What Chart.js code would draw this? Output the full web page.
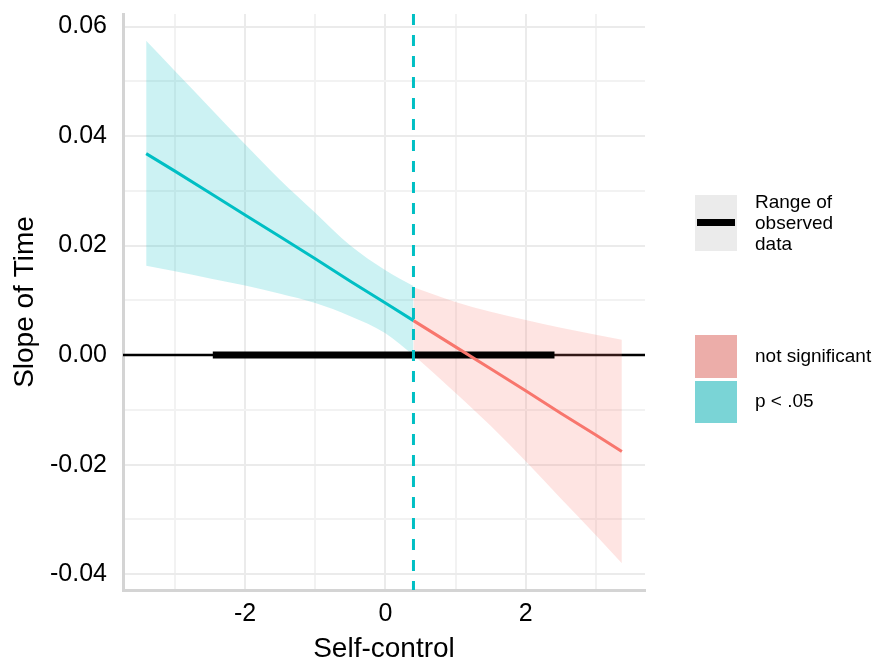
<!DOCTYPE html>
<html>
<head>
<meta charset="utf-8">
<script src="https://cdn.jsdelivr.net/npm/chart.js@4.4.1/dist/chart.umd.min.js"></script>
<style>
  body { margin: 0; background: #fff; }
  #wrap { width: 874px; height: 659px; }
</style>
</head>
<body>
<div id="wrap"><canvas id="jnChart" width="874" height="659"></canvas></div>
<script>
// values
var sigX     = [-3.41, -3, -2.5, -2, -1.5, -1, -0.5, 0, 0.4];
var sigSlope = [0.0368, 0.0336, 0.0296, 0.0256, 0.0216, 0.0176, 0.0135, 0.0095, 0.0063];
var sigUpper = [0.0574, 0.0519, 0.0452, 0.0385, 0.0320, 0.0260, 0.0200, 0.0155, 0.0126];
var sigLower = [0.0163, 0.0153, 0.0140, 0.0127, 0.0112, 0.0095, 0.0071, 0.0040, 0.0000];

var nsX     = [0.4, 1, 1.5, 2, 2.5, 3, 3.37];
var nsSlope = [0.0063, 0.0015, -0.0025, -0.0065, -0.0106, -0.0146, -0.0176];
var nsUpper = [0.0124, 0.0097, 0.0079, 0.0064, 0.0050, 0.0037, 0.0028];
var nsLower = [0.0000, -0.0069, -0.0129, -0.0194, -0.0262, -0.0329, -0.0380];

var observedRange = [-2.46, 2.41];
var jnPoint = 0.4;

var xTicks = [-3, -2, -1, 0, 1, 2, 3];
var xLabels = [-2, 0, 2];
var yTicks = [-0.04, -0.03, -0.02, -0.01, 0, 0.01, 0.02, 0.03, 0.04, 0.05, 0.06];
var yLabels = [-0.04, -0.02, 0, 0.02, 0.04, 0.06];

var cyan = '#00BFC4', salmon = '#F8766D';
var font = "'Liberation Sans', Arial, sans-serif";

function pts(xs, ys) {
    return xs.map(function(x, i){ return {x: x, y: ys[i]}; });
}
function isLabel(list, v) {
    return list.some(function(l){ return Math.abs(l - v) < 1e-9; });
}

var refLines = {
    id: 'refLines',
    beforeDatasetsDraw: function(chart) {
        // thin zero line across the panel
        var c = chart.ctx, a = chart.chartArea;
        var y0 = chart.scales.y.getPixelForValue(0);
        c.save();
        c.strokeStyle = '#000';
        c.lineWidth = 2.5;
        c.beginPath();
        c.moveTo(a.left, y0);
        c.lineTo(a.right, y0);
        c.stroke();
        c.restore();
    },
    afterDatasetsDraw: function(chart) {
        var c = chart.ctx, a = chart.chartArea;
        var xj = chart.scales.x.getPixelForValue(jnPoint);
        c.save();
        c.strokeStyle = cyan;
        c.lineWidth = 3;
        c.setLineDash([11, 10]);
        c.beginPath();
        c.moveTo(xj, a.top);
        c.lineTo(xj, a.bottom);
        c.stroke();
        c.restore();
    },
    afterDraw: function(chart) {
        var c = chart.ctx;
        c.save();
        // legend: range of observed data
        c.fillStyle = '#EBEBEB';
        c.fillRect(695, 195, 42, 56);
        c.fillStyle = '#000';
        c.fillRect(697, 219, 38, 7);
        c.font = '19px ' + font;
        c.textBaseline = 'middle';
        c.fillText('Range of', 755, 203);
        c.fillText('observed', 755, 224);
        c.fillText('data', 755, 245);
        // legend: significance
        c.fillStyle = '#ECADA9';
        c.fillRect(695, 335, 42, 43);
        c.fillStyle = '#7AD4D6';
        c.fillRect(695, 381, 42, 42);
        c.fillStyle = '#000';
        c.fillText('not significant', 755, 357);
        c.fillText('p < .05', 755, 402);
        c.restore();
    }
};

var ctx = document.getElementById('jnChart').getContext('2d');
var chart = new Chart(ctx, {
    type: 'line',
    data: {
        datasets: [
            { data: pts(sigX, sigUpper), borderWidth: 0, pointRadius: 0, fill: '+1',
              backgroundColor: 'rgba(0,191,196,0.2)', cubicInterpolationMode: 'monotone', order: 5 },
            { data: pts(sigX, sigLower), borderWidth: 0, pointRadius: 0, fill: false,
              cubicInterpolationMode: 'monotone', order: 5 },
            { data: pts(nsX, nsUpper), borderWidth: 0, pointRadius: 0, fill: '+1',
              backgroundColor: 'rgba(248,118,109,0.2)', cubicInterpolationMode: 'monotone', order: 5 },
            { data: pts(nsX, nsLower), borderWidth: 0, pointRadius: 0, fill: false,
              cubicInterpolationMode: 'monotone', order: 5 },
            { data: pts(observedRange, [0, 0]), borderColor: '#000', borderWidth: 7,
              borderCapStyle: 'butt', pointRadius: 0, fill: false, order: 3 },
            { data: pts(sigX, sigSlope), borderColor: cyan, borderWidth: 3, pointRadius: 0, fill: false, order: 2 },
            { data: pts(nsX, nsSlope), borderColor: salmon, borderWidth: 3, pointRadius: 0, fill: false, order: 2 }
        ]
    },
    options: {
        responsive: false,
        animation: false,
        events: [],
        layout: { padding: { top: 14, right: 229, left: 0, bottom: 0 } },
        plugins: { legend: { display: false }, tooltip: { enabled: false } },
        scales: {
            x: {
                type: 'linear',
                min: -3.74, max: 3.70,
                afterFit: function(s){ s.height = 69; s.paddingLeft = 0; s.paddingRight = 0; },
                afterBuildTicks: function(s){ s.ticks = xTicks.map(function(v){ return {value: v}; }); },
                grid: {
                    drawTicks: false,
                    lineWidth: 2,
                    color: function(c){ return c.tick && isLabel(xLabels, c.tick.value) ? '#EBEBEB' : '#F2F2F2'; }
                },
                border: { color: '#D4D4D4', width: 3 },
                ticks: {
                    padding: 9,
                    color: '#000',
                    font: { family: font, size: 25 },
                    callback: function(v){ return isLabel(xLabels, v) ? String(v) : ''; }
                },
                title: {
                    display: true, text: 'Self-control', color: '#000',
                    font: { family: font, size: 28 }, padding: { top: 0, bottom: -7 }
                }
            },
            y: {
                type: 'linear',
                min: -0.0429, max: 0.0623,
                afterFit: function(s){ s.width = 123; s.paddingTop = 0; s.paddingBottom = 0; },
                afterBuildTicks: function(s){ s.ticks = yTicks.map(function(v){ return {value: v}; }); },
                grid: {
                    drawTicks: false,
                    lineWidth: 2,
                    color: function(c){ return c.tick && isLabel(yLabels, c.tick.value) ? '#EBEBEB' : '#F2F2F2'; }
                },
                border: { color: '#D4D4D4', width: 3 },
                ticks: {
                    padding: 16,
                    color: '#000',
                    font: { family: font, size: 25 },
                    callback: function(v){ return isLabel(yLabels, v) ? v.toFixed(2) : ''; }
                },
                title: {
                    display: true, text: 'Slope of Time', color: '#000',
                    font: { family: font, size: 28 }, padding: { top: 8, bottom: 0 }
                }
            }
        }
    },
    plugins: [refLines]
});
</script>
</body>
</html>
